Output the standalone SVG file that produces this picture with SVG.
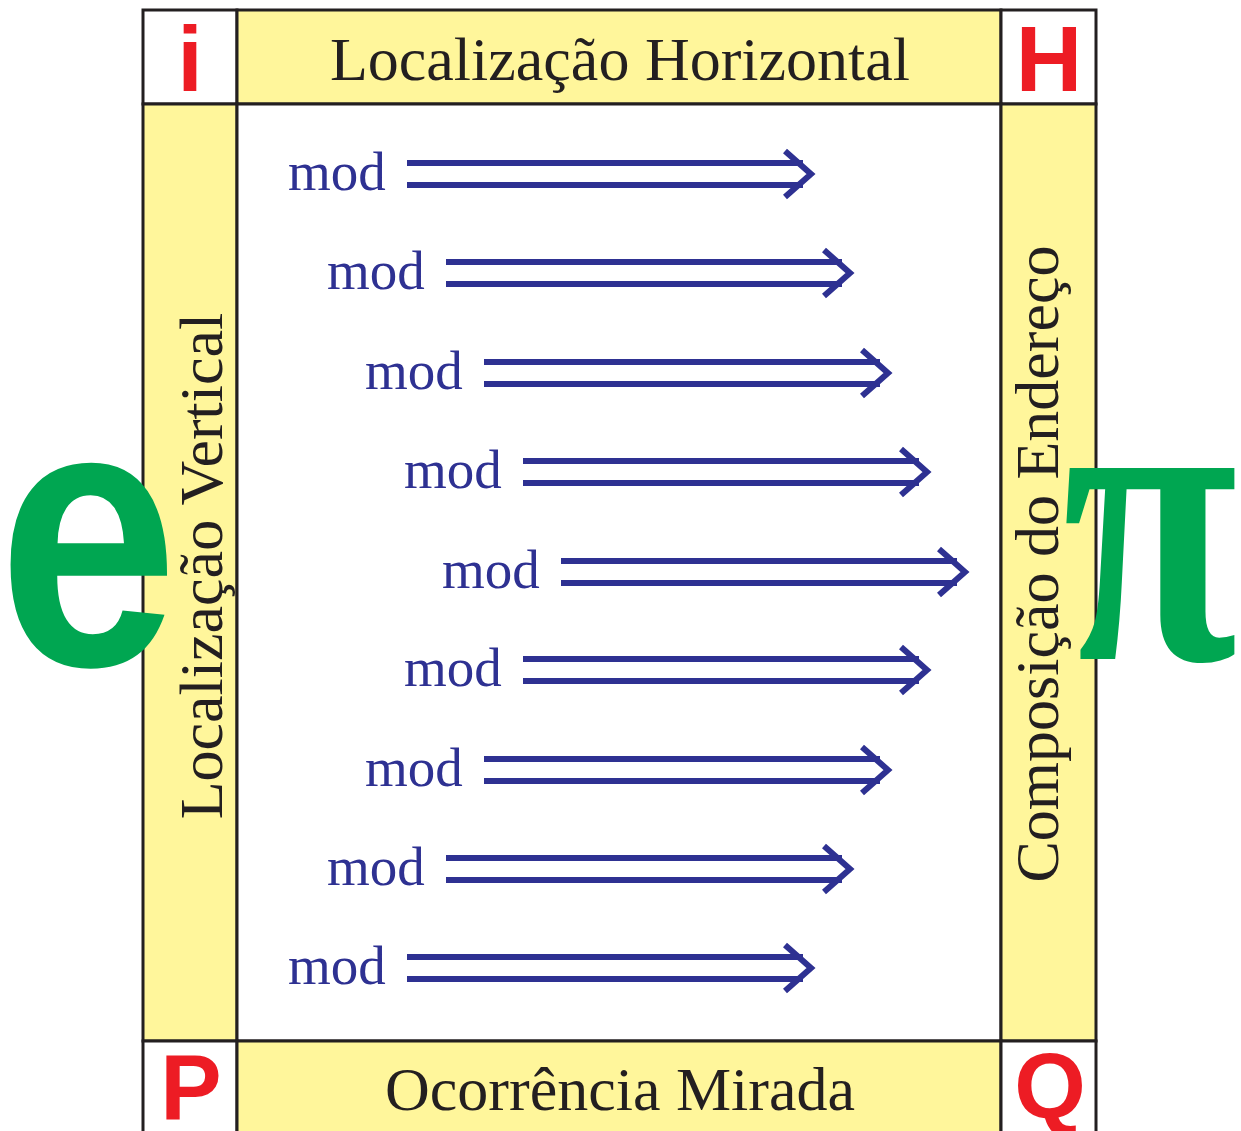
<svg xmlns="http://www.w3.org/2000/svg" xmlns:xlink="http://www.w3.org/1999/xlink" width="1241" height="1131" viewBox="0 0 1241 1131">
  <style>
    .cell { stroke: #231f20; stroke-width: 3; }
    .yellow { fill: #fff69b; }
    .white { fill: #ffffff; }
    .title { font-family: "Liberation Serif", "Times New Roman", serif; font-size: 62px; fill: #231f20; text-anchor: middle; }
    .corner { font-family: "Liberation Sans", Arial, sans-serif; font-weight: bold; font-size: 92px; fill: #ed1c24; text-anchor: middle; }
    .mod { font-family: "Liberation Serif", "Times New Roman", serif; font-size: 55px; fill: #2e3192; }
    .arrow { fill: none; stroke: #2e3192; stroke-width: 6; }
    .big { fill: #00a651; text-anchor: middle; }
  </style>
  <defs>
    <g id="dbl">
      <line class="arrow" x1="0" y1="-11" x2="396" y2="-11"/>
      <line class="arrow" x1="0" y1="11" x2="396" y2="11"/>
      <polyline class="arrow" points="378,-23 404,0 378,23" stroke-linejoin="miter"/>
    </g>
  </defs>
  <rect width="1241" height="1131" fill="#ffffff"/>

  <g id="corner-i">
    <rect class="cell white" x="143" y="10" width="94" height="94"/>
    <text class="corner" x="190" y="91">i</text>
  </g>
  <g id="localizacao-horizontal">
    <rect class="cell yellow" x="237" y="10" width="764" height="94"/>
    <text class="title" x="620" y="80">Localização Horizontal</text>
  </g>
  <g id="corner-H">
    <rect class="cell white" x="1001" y="10" width="95" height="94"/>
    <text class="corner" x="1049" y="91">H</text>
  </g>
  <g id="localizacao-vertical">
    <rect class="cell yellow" x="143" y="104" width="94" height="937"/>
    <text class="title" transform="translate(222,566) rotate(-90)" x="0" y="0">Localização Vertical</text>
  </g>
  <g id="centro">
    <rect class="cell white" x="237" y="104" width="764" height="937"/>
  </g>
  <g id="composicao-do-endereco">
    <rect class="cell yellow" x="1001" y="104" width="95" height="937"/>
    <text class="title" transform="translate(1058,564) rotate(-90)" x="0" y="0">Composição do Endereço</text>
  </g>
  <g id="corner-P">
    <rect class="cell white" x="143" y="1041" width="94" height="95"/>
    <text class="corner" x="191" y="1120">P</text>
  </g>
  <g id="ocorrencia-mirada">
    <rect class="cell yellow" x="237" y="1041" width="764" height="95"/>
    <text class="title" x="620" y="1110">Ocorrência Mirada</text>
  </g>
  <g id="corner-Q">
    <rect class="cell white" x="1001" y="1041" width="95" height="95"/>
    <text class="corner" x="1050" y="1118">Q</text>
  </g>

  <g id="mod-labels">
    <text class="mod" x="288" y="190">mod</text>
    <text class="mod" x="327" y="289">mod</text>
    <text class="mod" x="365" y="389">mod</text>
    <text class="mod" x="404" y="488">mod</text>
    <text class="mod" x="442" y="588">mod</text>
    <text class="mod" x="404" y="686">mod</text>
    <text class="mod" x="365" y="786">mod</text>
    <text class="mod" x="327" y="885">mod</text>
    <text class="mod" x="288" y="984">mod</text>
  </g>

  <g id="connectors">
    <use xlink:href="#dbl" href="#dbl" transform="translate(407,174)"/>
    <use xlink:href="#dbl" href="#dbl" transform="translate(446,273)"/>
    <use xlink:href="#dbl" href="#dbl" transform="translate(484,373)"/>
    <use xlink:href="#dbl" href="#dbl" transform="translate(523,472)"/>
    <use xlink:href="#dbl" href="#dbl" transform="translate(561,572)"/>
    <use xlink:href="#dbl" href="#dbl" transform="translate(523,670)"/>
    <use xlink:href="#dbl" href="#dbl" transform="translate(484,770)"/>
    <use xlink:href="#dbl" href="#dbl" transform="translate(446,869)"/>
    <use xlink:href="#dbl" href="#dbl" transform="translate(407,968)"/>
  </g>

  <g id="letter-e">
    <text class="big" transform="translate(88,665) scale(1,1.16)" x="0" y="0" font-family="'Liberation Sans', Arial, sans-serif" font-weight="bold" font-size="324">e</text>
  </g>
  <g id="letter-pi">
    <text class="big" transform="translate(1150,659) scale(1,1.3)" x="0" y="0" font-family="'Liberation Serif', 'Times New Roman', serif" font-weight="bold" font-size="320">π</text>
  </g>
</svg>
